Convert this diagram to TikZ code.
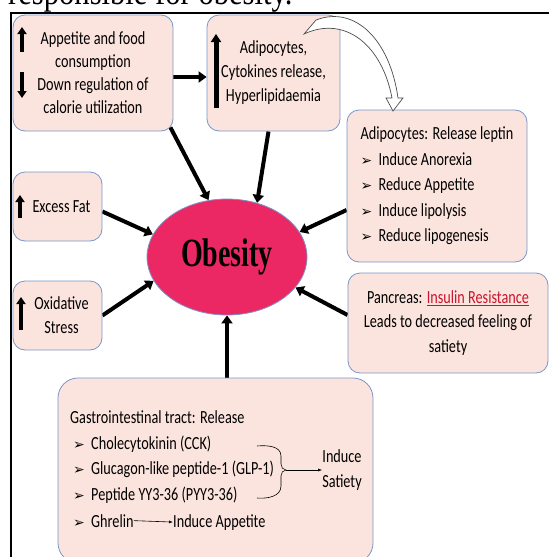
\documentclass[tikz,border=0pt]{standalone}
\usepackage{fontspec}
\setmainfont{Carlito}[FakeStretch=0.77]
\newfontfamily\capfont{Liberation Serif}[FakeStretch=0.85]
\newfontfamily\obfont{Liberation Serif}[FakeStretch=0.7]
\newfontfamily\symfont{DejaVu Sans}
\usetikzlibrary{arrows.meta,shapes.geometric,backgrounds,positioning}
\definecolor{boxfill}{RGB}{252,228,222}
\definecolor{boxline}{RGB}{120,150,200}
\definecolor{obred}{RGB}{236,40,100}
\definecolor{insred}{RGB}{200,20,45}
\newcommand\bul{\makebox[18pt][l]{\symfont\fontsize{14}{14}\selectfont ➢}}

\begin{document}
\begin{tikzpicture}[x=1pt,y=-1pt,
    box/.style={draw=boxline, fill=boxfill, line width=0.8pt, rounded corners=12pt,
      inner sep=0pt, align=center, font=\fontsize{18.5}{24}\selectfont},
    txt/.style={inner sep=0pt, align=left, font=\fontsize{18.5}{25.5}\selectfont},
    feed/.style={line width=4pt, -{Triangle[length=8pt,width=11pt]}},
    rise/.style={line width=4pt, -{Triangle[length=7pt,width=9pt]}},
    pointer/.style={line width=0.6pt, -{Latex[length=4pt,width=3pt]}}]
    \useasboundingbox (0,0) rectangle (549,557);

    % caption line cut off at the top
    \node[anchor=base west, inner sep=0pt, font=\capfont\fontsize{36}{36}\selectfont] (caption) at (8,4) {responsible for obesity.};
    \draw[line width=2pt] (11,557) -- (11,13) -- (549,13);

    % boxes round the ellipse
    \node[box, minimum width=160pt, minimum height=116pt, font=\fontsize{18.5}{23}\selectfont] (appetite) at (93,73)
        {Appetite and food\\consumption\\Down regulation of\\calorie utilization};
    \node[box, minimum width=133pt, minimum height=116pt] (adipo) at (273.5,73)
        {Adipocytes,\\Cytokines release,\\Hyperlipidaemia};
    \node[box, minimum width=180pt, minimum height=152pt, align=left, font=\fontsize{18.5}{25.5}\selectfont] (leptin) at (437,186)
        {Adipocytes: Release leptin\\\bul Induce Anorexia\\\bul Reduce Appetite\\\bul Induce lipolysis\\\bul Reduce lipogenesis};
    \node[box, minimum width=200pt, minimum height=100pt, font=\fontsize{18.5}{24.5}\selectfont] (pancreas) at (448,323)
        {Pancreas: \textcolor{insred}{\underline{Insulin Resistance}}\\Leads to decreased feeling of\\satiety};
    \node[box, minimum width=89pt, minimum height=69pt] (excessfat) at (57.5,206.5) {\hspace*{8pt}Excess Fat};
    \node[box, minimum width=89pt, minimum height=69pt] (oxidative) at (57.5,315.5) {\hspace*{8pt}Oxidative\\\hspace*{8pt}Stress};
    \node[box, rounded corners=20pt, minimum width=315pt, minimum height=185pt] (gitract) at (215.5,470.5) {};

    % centre
    \node[ellipse, draw=boxline, fill=obred, line width=0.8pt, minimum width=160pt, minimum height=116pt,
        font=\obfont\bfseries\fontsize{40}{40}\selectfont] (obesity) at (227,257) {Obesity};

    % up / down marks
    \draw[rise] (22,52) -- (22,27);
    \draw[rise] (22,72) -- (22,98);
    \draw[line width=5pt, -{Triangle[length=8pt,width=10pt]}] (216,108) -- (216,34);
    \draw[rise] (20,218) -- (20,195);
    \draw[rise] (21,330) -- (21,297);

    % gastrointestinal text
    \node[txt, anchor=base west] (gilist) at (70,500)
        {Gastrointestinal tract: Release\\\hspace*{3pt}\bul Cholecytokinin (CCK)\\\hspace*{3pt}\bul Glucagon-like peptide-1 (GLP-1)\\\hspace*{3pt}\bul Peptide YY3-36 (PYY3-36)};
    \node[txt, anchor=base west] (ghrelin) at (73,527) {\bul Ghrelin};
    \node[txt, anchor=base west] (inducapp) at (173,527) {Induce Appetite};
    \node[txt, align=center] (satiety) at (342,470) {Induce\\Satiety};
    \coordinate (bracetop) at (257,446);
    \coordinate (bracebot) at (257,498);
    \coordinate (bracetip) at (286,470);
    \draw[line width=0.6pt] (bracetop) to[out=5,in=90] (281,456) -- (281,464) to[out=-90,in=180] (bracetip)
        to[out=180,in=90] (281,476) -- (281,486) to[out=-90,in=-5] (bracebot);
    \draw[pointer] (bracetip) -- (satiety.west);
    \draw[pointer] (ghrelin.east) -- (inducapp.west);

    % hollow curved arrow
    \draw[gray!60!black, line width=0.7pt, fill=white] (304,34) -- (316,20) .. controls (355,5) and (390,40) .. (398,98)
        -- (403,98) -- (393,111) -- (386,98) -- (392,98) .. controls (382,45) and (345,15) .. (304,34) -- cycle;

    % arrows into the ellipse
    \begin{scope}[on background layer]
    \draw[feed] ([yshift=-4pt]appetite.east) -- ([yshift=-4pt]adipo.west);
    \draw[feed] ([shift={(-3pt,4pt)}]appetite.south east) -- (obesity.108);
    \draw[feed] ([xshift=-5pt]adipo.south) -- (obesity.61);
    \draw[feed] ([yshift=-24pt]leptin.west) -- (obesity.19);
    \draw[feed] ([yshift=8pt]pancreas.west) -- (obesity.-24);
    \draw[feed] ([yshift=-5pt]excessfat.east) -- (obesity.163);
    \draw[feed] (oxidative.east) -- (obesity.198);
    \draw[feed] (gitract.north -| obesity.south) -- (obesity.south);
    \end{scope}
\end{tikzpicture}
\end{document}
